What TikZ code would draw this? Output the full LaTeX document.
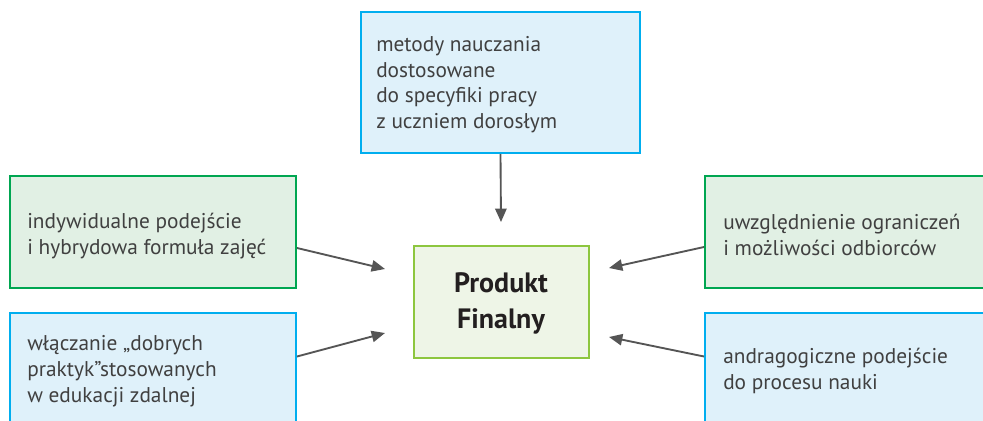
\documentclass[tikz,border=0pt]{standalone}
\usepackage{fontspec}
\setmainfont{PT Sans}
\usetikzlibrary{arrows.meta,fit,calc}
\definecolor{gborder}{RGB}{0,166,81}
\definecolor{gfill}{RGB}{225,240,228}
\definecolor{bborder}{RGB}{0,174,239}
\definecolor{bfill}{RGB}{223,241,250}
\definecolor{cborder}{RGB}{141,198,63}
\definecolor{cfill}{RGB}{238,245,231}
\definecolor{arrcol}{RGB}{85,85,85}
\definecolor{txt}{RGB}{64,64,64}
\definecolor{ctxt}{RGB}{35,31,32}
\begin{document}
\begin{tikzpicture}[x=0.75pt,y=-0.75pt,
  gbox/.style={draw=gborder,fill=gfill,line width=1.5pt,inner sep=0pt},
  bbox/.style={draw=bborder,fill=bfill,line width=1.5pt,inner sep=0pt},
  cbox/.style={draw=cborder,fill=cfill,line width=1.5pt,inner sep=0pt},
  lbl/.style={anchor=base west,inner sep=0pt,align=left,text=txt,font=\fontsize{16}{19.2}\selectfont},
  clbl/.style={anchor=base,inner sep=0pt,align=center,text=ctxt,font=\fontsize{21}{26.3}\selectfont\bfseries},
  arr/.style={draw=arrcol,line width=1.4pt,-{Triangle[length=10pt,width=8.5pt]}}]
\useasboundingbox (0,0) rectangle (983,421);
\begin{scope}
\clip (0,0) rectangle (983,421);
\node[bbox,fit={(361,12)(640,153)}] (top) {};
\node[gbox,fit={(10,176)(296,288)}] (lg) {};
\node[bbox,fit={(10,313)(296,440)}] (lb) {};
\node[gbox,fit={(705,176)(1000,288)}] (rg) {};
\node[bbox,fit={(705,313)(1000,440)}] (rb) {};
\node[cbox,fit={(414,246)(589,358)}] (c) {};
\end{scope}
\node[lbl] (ttop) at (376,128.5) {metody nauczania\\dostosowane\\do specyfiki pracy\\z uczniem dorosłym};
\node[lbl] (tlg) at (27,254) {indywidualne podejście\\i hybrydowa formuła zajęć};
\node[lbl] (tlb) at (27,402) {włączanie „dobrych\\praktyk”stosowanych\\w edukacji zdalnej};
\node[lbl] (trg) at (723,255) {uwzględnienie ograniczeń\\i możliwości odbiorców};
\node[lbl] (trb) at (723,389) {andragogiczne podejście\\do procesu nauki};
\node[clbl] (tc) at (501,328) {Produkt\\Finalny};
\coordinate (tipTop) at (501,222);
\coordinate (tipLG) at (385,269);
\coordinate (tipLB) at (385,333);
\coordinate (tipRG) at (609,268);
\coordinate (tipRB) at (609,337);
\draw[arr] (top.south) -- (tipTop);
\draw[arr] ($(lg.east)+(0,16)$) -- (tipLG);
\draw[arr] ($(lb.east)+(0,-20)$) -- (tipLB);
\draw[arr] ($(rg.west)+(0,15)$) -- (tipRG);
\draw[arr] ($(rb.west)+(0,-20)$) -- (tipRB);
\end{tikzpicture}
\end{document}
